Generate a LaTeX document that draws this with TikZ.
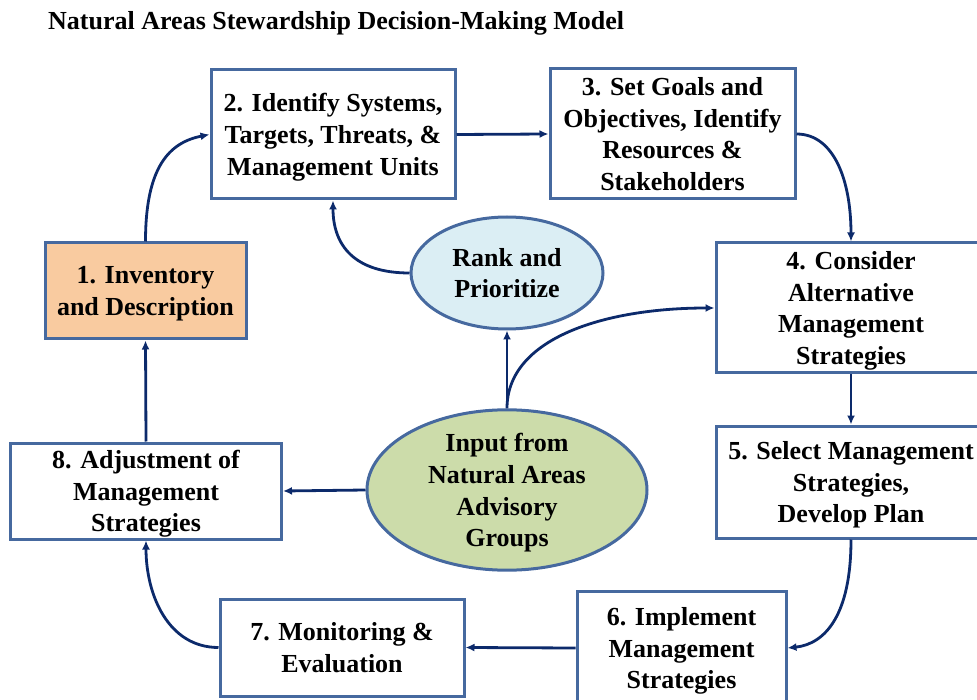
\documentclass[tikz,border=0pt]{standalone}
\usepackage{fontspec}
\setmainfont{Liberation Serif}
\usetikzlibrary{arrows.meta,shapes.geometric}
\definecolor{boxline}{HTML}{46699F}
\definecolor{arrowcol}{HTML}{0C2A6B}
\definecolor{peach}{HTML}{F9CBA0}
\definecolor{lightblue}{HTML}{DBEEF4}
\definecolor{lightgreen}{HTML}{CCDCAA}
\tikzset{
  stepbox/.style={draw=boxline, line width=3pt, fill=white, align=center, inner sep=0pt,
    text depth=0pt, font=\fontsize{26}{31.7}\selectfont\bfseries},
  ovalnode/.style={ellipse, draw=boxline, line width=3pt, align=center, inner sep=0pt,
    text depth=0pt, font=\fontsize{26}{31.7}\selectfont\bfseries},
  flow/.style={draw=arrowcol, line width=2.8pt, -{Latex[length=9pt,width=8pt]}},
}
\begin{document}
\begin{tikzpicture}[x=1pt,y=-1pt]
\useasboundingbox (0,0) rectangle (977,700);
\clip (0,0) rectangle (977,700);
\node[anchor=base west, inner sep=0pt, font=\fontsize{26}{30}\selectfont\bfseries] (title) at (48,30) {Natural Areas Stewardship Decision-Making Model};

\node[stepbox, fill=peach, minimum width=201pt, minimum height=96pt] (b1) at (145.5,291) {1. Inventory\\and Description};
\node[stepbox, minimum width=244pt, minimum height=129pt] (b2) at (333,134.5) {2. Identify Systems,\\Targets, Threats, \&\\Management Units};
\node[stepbox, minimum width=245pt, minimum height=130pt] (b3) at (672.5,134) {3. Set Goals and\\Objectives, Identify\\Resources \&\\Stakeholders};
\node[stepbox, minimum width=270pt, minimum height=130pt] (b4) at (851,308) {4. Consider\\Alternative\\Management\\Strategies};
\node[stepbox, minimum width=270pt, minimum height=112pt] (b5) at (851,482) {5. Select Management\\Strategies,\\Develop Plan};
\node[stepbox, minimum width=209pt, minimum height=114pt] (b6) at (681.5,648) {6. Implement\\Management\\Strategies};
\node[stepbox, minimum width=244pt, minimum height=97pt] (b7) at (342,647.5) {7. Monitoring \&\\Evaluation};
\node[stepbox, minimum width=271pt, minimum height=96pt] (b8) at (146,491) {8. Adjustment of\\Management\\Strategies};

\node[ovalnode, fill=lightblue, minimum width=192pt, minimum height=112pt] (rank) at (507,273) {Rank and\\Prioritize};
\node[ovalnode, fill=lightgreen, minimum width=280pt, minimum height=148pt] (input) at (507,490) {Input from\\Natural Areas\\Advisory\\Groups};

\draw[flow] (b1.north) .. controls +(0,-75) and +(-40,8) .. (b2.west);
\draw[flow] (b2.east) -- (b3.west);
\draw[flow] (b3.east) .. controls +(38,0) and +(0,-60) .. (b4.north);
\draw[flow] (b4.south) -- (b5.north);
\draw[flow] (b5.south) .. controls +(0,75) and +(38,-4) .. (b6.east);
\draw[flow] (b6.west) -- (b7.east);
\draw[flow] (b7.west) .. controls +(-50,0) and +(0,55) .. (b8.south);
\draw[flow] (b8.north) -- (b1.south);
\draw[flow] (rank.west) .. controls +(-55,0) and +(0,45) .. (b2.south);
\draw[flow] (input.north) -- (rank.south);
\draw[flow] (input.north) .. controls +(0,-70) and +(-110,0) .. (b4.west);
\draw[flow] (input.west) -- (b8.east);
\end{tikzpicture}
\end{document}
